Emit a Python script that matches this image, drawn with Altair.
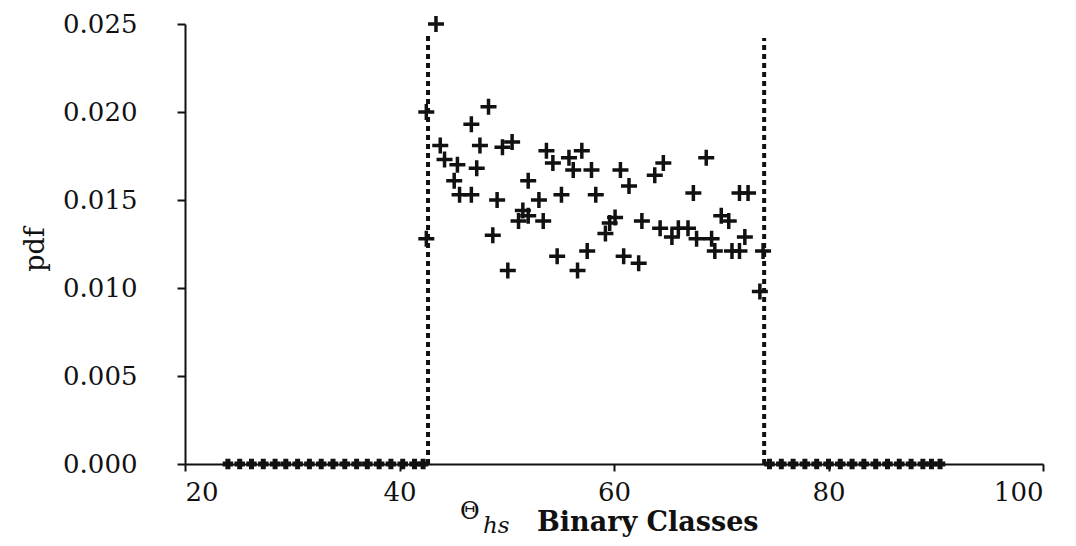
import altair as alt
import pandas as pd

# ---- data ----
mid_x = [42.5, 43.4, 42.5, 43.8, 44.2, 45.4, 45.1, 45.6, 46.7, 46.7, 47.2, 47.5,
         48.3, 48.7, 49.1, 49.6, 50.5, 50.1, 51.1, 51.5, 52.0, 52.0, 53.0, 53.4,
         53.7, 54.3, 54.7, 55.1, 55.8, 56.2, 56.6, 57.0, 57.5, 57.9, 58.3, 59.2,
         59.6, 60.1, 60.6, 60.9, 61.4, 62.3, 62.6, 63.8, 64.3, 64.6, 65.4, 66.0,
         66.9, 67.4, 67.7, 68.6, 69.1, 69.4, 70.0, 70.7, 71.0, 71.7, 71.7, 72.2,
         72.5, 73.9, 73.6]
mid_y = [0.0200, 0.0250, 0.0128, 0.0181, 0.0173, 0.0170, 0.0161, 0.0153, 0.0153, 0.0193, 0.0168, 0.0181,
         0.0203, 0.0130, 0.0150, 0.0180, 0.0183, 0.0110, 0.0138, 0.0144, 0.0141, 0.0161, 0.0150, 0.0138,
         0.0178, 0.0171, 0.0118, 0.0153, 0.0174, 0.0167, 0.0110, 0.0178, 0.0121, 0.0167, 0.0153, 0.0131,
         0.0137, 0.0140, 0.0167, 0.0118, 0.0158, 0.0114, 0.0138, 0.0164, 0.0134, 0.0171, 0.0129, 0.0134,
         0.0134, 0.0154, 0.0128, 0.0174, 0.0128, 0.0121, 0.0141, 0.0138, 0.0121, 0.0121, 0.0154, 0.0129,
         0.0154, 0.0121, 0.0098]

zero_left_x = [24.0, 25.1, 26.2, 27.3, 28.4, 29.4, 30.5, 31.6, 32.7, 33.8, 34.9,
               36.0, 37.0, 38.1, 39.2, 40.3, 41.4, 42.2]
zero_right_x = [74.5, 75.6, 76.7, 77.8, 78.9, 80.0, 81.1, 82.2, 83.3, 84.4, 85.5,
                86.6, 87.7, 88.8, 89.6, 90.4]

bound_x = [42.66, 74.0]
bound_top = [0.0245, 0.0242]

x_ticks = [20, 40, 60, 80, 100]
y_ticks = [0.0, 0.005, 0.010, 0.015, 0.020, 0.025]

title_sym = ["Θ"]
title_sub = ["hs"]
title_main = ["Binary Classes"]

# ---- tables ----
mid = pd.DataFrame({"x": mid_x, "y": mid_y})
zeros = pd.DataFrame({"x": zero_left_x + zero_right_x,
                      "y": [0.0] * (len(zero_left_x) + len(zero_right_x))})
bounds = pd.DataFrame({"x": bound_x, "y0": [0.0, 0.0], "y1": bound_top})

FONT = "DejaVu Serif"
INK = "#111111"
PLUS = "M -1 0 L 1 0 M 0 -1 L 0 1"

xs = alt.Scale(domain=[20, 100], nice=False, zero=False)
ys = alt.Scale(domain=[0, 0.025], nice=False)

x_axis = alt.Axis(values=x_ticks, format="d", title=None, grid=False,
                  tickSize=7, tickWidth=2, domainWidth=2, domainColor=INK, tickColor=INK,
                  labelFont=FONT, labelFontSize=26, labelColor=INK, labelPadding=8)
y_axis = alt.Axis(values=y_ticks, format=".3f", title="pdf", grid=False,
                  tickSize=8, tickWidth=2, domainWidth=2, domainColor=INK, tickColor=INK,
                  labelFont=FONT, labelFontSize=26, labelColor=INK, labelPadding=40,
                  titleFont=FONT, titleFontSize=27, titleFontWeight="normal", titleColor=INK,
                  titleAngle=-90, titleX=-150, titleY=225, titleAlign="center",
                  titleBaseline="middle")

pts = alt.Chart(mid).mark_point(shape=PLUS, filled=False, size=256, strokeWidth=3.5,
                                color=INK, opacity=1).encode(
    x=alt.X("x:Q", scale=xs, axis=x_axis),
    y=alt.Y("y:Q", scale=ys, axis=y_axis),
)

zpts = alt.Chart(zeros).mark_point(shape=PLUS, filled=False, size=110, strokeWidth=5,
                                   color=INK, opacity=1).encode(
    x=alt.X("x:Q", scale=xs),
    y=alt.Y("y:Q", scale=ys),
)

rules = alt.Chart(bounds).mark_rule(color=INK, strokeWidth=4, strokeDash=[5, 4]).encode(
    x=alt.X("x:Q", scale=xs),
    y=alt.Y("y0:Q", scale=ys),
    y2="y1:Q",
)

t_sym = alt.Chart(pd.DataFrame({"t": title_sym})).mark_text(
    font=FONT, fontSize=24, color=INK, align="left", baseline="alphabetic").encode(
    text="t:N", x=alt.value(275), y=alt.value(495))
t_sub = alt.Chart(pd.DataFrame({"t": title_sub})).mark_text(
    font=FONT, fontSize=23, fontStyle="italic", color=INK, align="left",
    baseline="alphabetic").encode(
    text="t:N", x=alt.value(298), y=alt.value(509))
t_main = alt.Chart(pd.DataFrame({"t": title_main})).mark_text(
    font=FONT, fontSize=27, fontWeight="bold", color=INK, align="left",
    baseline="alphabetic").encode(
    text="t:N", x=alt.value(352), y=alt.value(507))

chart = alt.layer(rules, zpts, pts, t_sym, t_sub, t_main).properties(
    width=858, height=440,
    autosize=alt.AutoSizeParams(type="none"),
    padding={"left": 177, "top": 16, "right": 25, "bottom": 80},
    background="white",
).configure_view(stroke=None)

chart.save("out.html", embed_options={"renderer": "svg", "actions": False})
